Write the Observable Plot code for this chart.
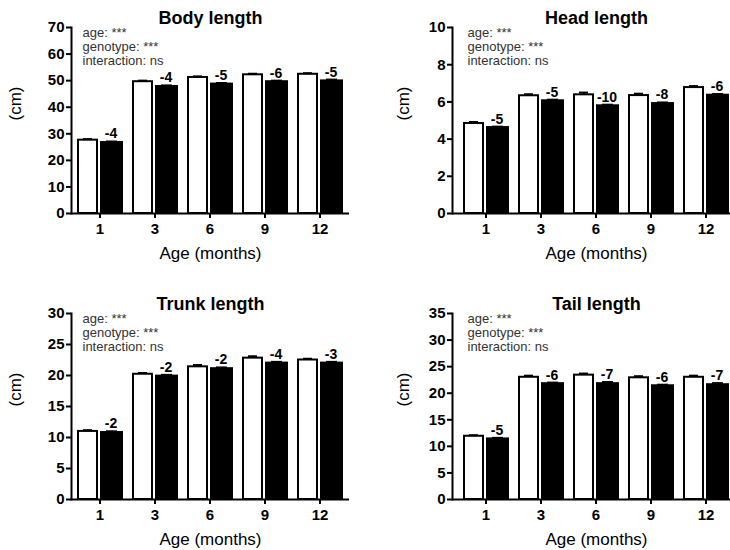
<!DOCTYPE html>
<html><head><meta charset="utf-8">
<script src="https://cdn.jsdelivr.net/npm/d3@7"></script>
<script src="https://cdn.jsdelivr.net/npm/@observablehq/plot@0.6"></script>
<style>
body{margin:0;background:#fff;}
#wrap{position:relative;width:730px;height:550px;overflow:hidden;background:#fff;}
.panel{position:absolute;}
.panel svg{max-width:none !important;}
</style></head><body><div id="wrap"></div>
<script>
const ages = ["1","3","6","9","12"];
const annotation = "age: ***\ngenotype: ***\ninteraction: ns";

const bodyWT = [27.6, 49.6, 51.2, 52.2, 52.4];
const bodyMut = [26.7, 47.8, 48.7, 49.6, 49.9];
const bodyWTSem = [0.4, 0.4, 0.4, 0.4, 0.4];
const bodyMutSem = [0.4, 0.4, 0.4, 0.4, 0.5];
const bodyDiff = [-4, -4, -5, -6, -5];
const bodyTicks = [0, 10, 20, 30, 40, 50, 60, 70];

const headWT = [4.84, 6.33, 6.38, 6.34, 6.77];
const headMut = [4.62, 6.06, 5.79, 5.91, 6.36];
const headWTSem = [0.08, 0.08, 0.12, 0.1, 0.08];
const headMutSem = [0.05, 0.06, 0.06, 0.06, 0.06];
const headDiff = [-5, -5, -10, -8, -6];
const headTicks = [0, 2, 4, 6, 8, 10];

const trunkWT = [10.98, 20.2, 21.4, 22.8, 22.5];
const trunkMut = [10.8, 19.9, 21.1, 22.0, 22.0];
const trunkWTSem = [0.2, 0.2, 0.3, 0.3, 0.2];
const trunkMutSem = [0.2, 0.2, 0.2, 0.2, 0.2];
const trunkDiff = [-2, -2, -2, -4, -3];
const trunkTicks = [0, 5, 10, 15, 20, 25, 30];

const tailWT = [11.9, 23.0, 23.4, 22.9, 23.0];
const tailMut = [11.4, 21.8, 21.8, 21.4, 21.6];
const tailWTSem = [0.2, 0.3, 0.3, 0.3, 0.3];
const tailMutSem = [0.2, 0.2, 0.3, 0.2, 0.3];
const tailDiff = [-5, -6, -7, -6, -7];
const tailTicks = [0, 5, 10, 15, 20, 25, 30, 35];

const FONT = "'Liberation Sans', Arial, Helvetica, sans-serif";

const leftLayout = {left: 0, width: 365, ml: 71, mr: 16, po: 0.059, cmOff: 56, adx: 11};
const rightLayout = {left: 365, width: 395, ml: 87, mr: 20, po: 0.149, cmOff: 49, adx: 15};

const panels = [
  {title: "Body length", top: 0, ...leftLayout, wt: bodyWT, mut: bodyMut, wtSem: bodyWTSem, mutSem: bodyMutSem, diff: bodyDiff, ticks: bodyTicks},
  {title: "Head length", top: 0, ...rightLayout, wt: headWT, mut: headMut, wtSem: headWTSem, mutSem: headMutSem, diff: headDiff, ticks: headTicks},
  {title: "Trunk length", top: 286, ...leftLayout, wt: trunkWT, mut: trunkMut, wtSem: trunkWTSem, mutSem: trunkMutSem, diff: trunkDiff, ticks: trunkTicks},
  {title: "Tail length", top: 286, ...rightLayout, wt: tailWT, mut: tailMut, wtSem: tailWTSem, mutSem: tailMutSem, diff: tailDiff, ticks: tailTicks}
];

function makePanel(cfg) {
  const rows = ages.map((a, i) => ({
    age: a, wt: cfg.wt[i], mut: cfg.mut[i],
    wtTop: cfg.wt[i] + cfg.wtSem[i], mutTop: cfg.mut[i] + cfg.mutSem[i],
    diff: String(cfg.diff[i])
  }));
  const ymax = cfg.ticks[cfg.ticks.length - 1];
  return Plot.plot({
    width: cfg.width, height: 275,
    marginLeft: cfg.ml, marginRight: cfg.mr, marginTop: 27, marginBottom: 62,
    style: {fontFamily: FONT, background: "white", overflow: "visible", color: "black", maxWidth: "none"},
    x: {domain: ages, paddingInner: 0.141, paddingOuter: cfg.po, align: 0.5},
    y: {domain: [0, ymax]},
    marks: [
      Plot.barY(rows, {x: "age", y: "wt", fill: "white", stroke: "black", strokeWidth: 2, insetLeft: 2, insetRight: 26}),
      Plot.barY(rows, {x: "age", y: "mut", fill: "black", stroke: "black", strokeWidth: 2, insetLeft: 25, insetRight: 1}),
      Plot.ruleX(rows, {x: "age", y1: "wt", y2: "wtTop", dx: -12, strokeWidth: 2}),
      Plot.tickY(rows, {x: "age", y: "wtTop", insetLeft: 7, insetRight: 31, strokeWidth: 2}),
      Plot.ruleX(rows, {x: "age", y1: "mut", y2: "mutTop", dx: 12, strokeWidth: 2}),
      Plot.tickY(rows, {x: "age", y: "mutTop", insetLeft: 30, insetRight: 6, strokeWidth: 2}),
      Plot.text(rows, {x: "age", y: "mutTop", text: "diff", dx: 11, dy: -3, lineAnchor: "bottom", fontSize: 14, fontWeight: "bold"}),
      Plot.axisX({tickSize: 5, tickPadding: 5, fontSize: 15, fontWeight: "bold", strokeWidth: 2, label: null}),
      Plot.axisY({ticks: cfg.ticks, tickSize: 5, tickPadding: 2, fontSize: 15, fontWeight: "bold", strokeWidth: 2, label: null}),
      Plot.ruleY([0], {strokeWidth: 2}),
      Plot.frame({anchor: "left", strokeWidth: 2}),
      Plot.text([cfg.title], {frameAnchor: "top", dy: -9, lineAnchor: "middle", fontSize: 18, fontWeight: "bold"}),
      Plot.text([annotation], {frameAnchor: "top-left", dx: cfg.adx, dy: -1, lineAnchor: "top", textAnchor: "start", fontSize: 13, lineHeight: 1.1, fill: "#333"}),
      Plot.text(["(cm)"], {frameAnchor: "left", dx: -cfg.cmOff, rotate: -90, fontSize: 17}),
      Plot.text(["Age (months)"], {frameAnchor: "bottom", dy: 40, lineAnchor: "middle", fontSize: 17})
    ]
  });
}

const wrap = document.getElementById("wrap");
for (const cfg of panels) {
  const div = document.createElement("div");
  div.className = "panel";
  div.style.left = cfg.left + "px";
  div.style.top = cfg.top + "px";
  div.style.width = cfg.width + "px";
  div.appendChild(makePanel(cfg));
  wrap.appendChild(div);
}
</script>
</body></html>
